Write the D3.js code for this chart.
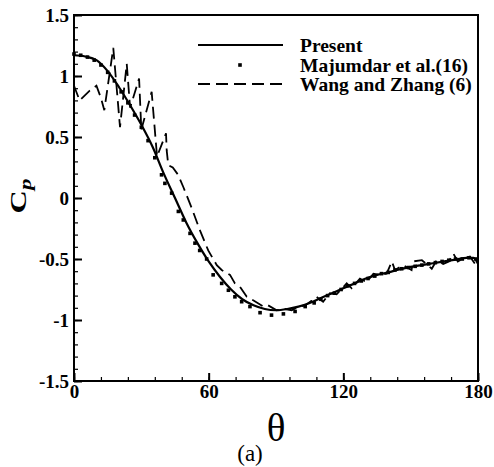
<!DOCTYPE html>
<html>
<head>
<meta charset="utf-8">
<script src="https://cdn.jsdelivr.net/npm/d3@7"></script>
<style>
  body { margin: 0; background: #fff; }
  text { font-family: "Liberation Serif", "Times New Roman", serif; }
</style>
</head>
<body>
<div id="vis"></div>
<script>
// Present (solid line)
const PRESENT_THETA = [0, 5, 10, 15, 20, 25, 30, 35, 40, 45, 50, 55, 60, 65, 70, 75, 80, 85, 90,
  95, 100, 105, 110, 115, 120, 125, 130, 135, 140, 145, 150, 155, 160, 165, 170, 175, 178, 180];
const PRESENT_CP = [1.17, 1.16, 1.13, 1.04, 0.91, 0.76, 0.60, 0.42, 0.20, 0.0, -0.20, -0.37, -0.52, -0.645, -0.75, -0.83, -0.88, -0.91, -0.92,
  -0.91, -0.89, -0.86, -0.82, -0.78, -0.74, -0.70, -0.66, -0.63, -0.61, -0.585, -0.565, -0.55, -0.535, -0.52, -0.505, -0.49, -0.49, -0.54];

// Majumdar et al. (square symbols)
const MAJ_THETA = [0, 3, 6, 9, 12, 15, 18, 21, 24, 27, 30, 33, 36, 39, 40.5, 43.5, 46.5, 48.7, 51.7, 53.9, 56, 59.1, 62,
  65.8, 68.8, 71.7, 74.7, 78.4, 82.9, 88, 93.3, 98.5, 103, 107, 110, 113, 116, 119, 122, 125, 128, 131, 134, 137,
  140, 143, 146, 149, 152, 155, 158, 161, 164, 167, 170, 173, 176, 179];
const MAJ_CP = [1.18, 1.17, 1.155, 1.13, 1.09, 1.03, 0.96, 0.87, 0.78, 0.68, 0.58, 0.47, 0.33, 0.19, 0.12, 0.04, -0.11, -0.18, -0.29, -0.37, -0.43, -0.50, -0.63,
  -0.70, -0.756, -0.81, -0.85, -0.89, -0.94, -0.96, -0.95, -0.93, -0.89, -0.86, -0.83, -0.80, -0.78, -0.75, -0.72, -0.70, -0.68, -0.66, -0.64, -0.62,
  -0.61, -0.59, -0.58, -0.57, -0.56, -0.55, -0.54, -0.53, -0.52, -0.51, -0.50, -0.50, -0.49, -0.50];

// Wang and Zhang (dashed line)
const WANG_THETA = [0, 2.5, 7, 10, 12, 13.5, 17.5, 20.5, 23.5, 25, 29, 30, 34.6, 37, 41, 41.3, 42, 44, 46.4, 48.7, 52.4, 56, 59.8,
  63.6, 65.8, 69.5, 71.7, 74, 77, 80, 84.4, 86.5, 90.3, 94, 97, 100, 103, 106, 108, 111, 114, 117, 119, 121.5, 123.7,
  127.4, 130.4, 133.4, 136, 139.3, 141.6, 143, 146.7, 150.4, 151, 155, 157, 159.4, 161.6, 164.5, 167, 169, 171, 173.5, 176.4, 178.7];
const WANG_CP = [0.92, 0.80, 0.88, 0.92, 0.82, 0.72, 1.23, 0.58, 1.10, 0.74, 0.98, 0.56, 0.87, 0.34, 0.53, 0.39, 0.27, 0.25, 0.19, 0.09, -0.08, -0.26, -0.43,
  -0.55, -0.59, -0.63, -0.70, -0.73, -0.81, -0.84, -0.89, -0.88, -0.92, -0.91, -0.92, -0.89, -0.88, -0.84, -0.81, -0.85, -0.78, -0.79, -0.75, -0.70, -0.74,
  -0.66, -0.69, -0.62, -0.63, -0.62, -0.52, -0.59, -0.55, -0.59, -0.52, -0.51, -0.54, -0.58, -0.51, -0.54, -0.52, -0.455, -0.52, -0.495, -0.48, -0.54];

const X_TICKS = [0, 60, 120, 180];
const Y_TICKS = [-1.5, -1, -0.5, 0, 0.5, 1, 1.5];
const LEGEND_LABELS = ["Present", "Majumdar et al.(16)", "Wang and Zhang (6)"];

const FRAME_WIDTH = 494;
const FRAME_HEIGHT = 467;
const MARGINS = {left: 74, right: 16, top: 15, bottom: 86};
const VIS_WIDTH = FRAME_WIDTH - MARGINS.left - MARGINS.right;
const VIS_HEIGHT = FRAME_HEIGHT - MARGINS.top - MARGINS.bottom;

const FRAME = d3.select("#vis")
                .append("svg")
                  .attr("width", FRAME_WIDTH)
                  .attr("height", FRAME_HEIGHT);

const X_SCALE = d3.scaleLinear().domain([0, 180]).range([0, VIS_WIDTH]);
const Y_SCALE = d3.scaleLinear().domain([-1.5, 1.5]).range([VIS_HEIGHT, 0]);

const PLOT = FRAME.append("g")
                  .attr("transform", "translate(" + MARGINS.left + "," + MARGINS.top + ")");

// minor ticks first (inside)
PLOT.append("g")
    .attr("transform", "translate(0," + VIS_HEIGHT + ")")
    .call(d3.axisBottom(X_SCALE).tickValues(d3.range(0, 181, 12)).tickSize(-4).tickFormat(""))
    .call(g => g.select(".domain").remove())
    .selectAll("line").attr("stroke-width", 1.2);
PLOT.append("g")
    .call(d3.axisLeft(Y_SCALE).tickValues(d3.range(-15, 16, 1).map(v => v / 10)).tickSize(-4).tickFormat(""))
    .call(g => g.select(".domain").remove())
    .selectAll("line").attr("stroke-width", 1.2);

// major ticks + labels
const X_AXIS = PLOT.append("g")
    .attr("transform", "translate(0," + VIS_HEIGHT + ")")
    .call(d3.axisBottom(X_SCALE).tickValues(X_TICKS).tickSize(-8).tickPadding(4).tickFormat(d3.format("d")));
const Y_AXIS = PLOT.append("g")
    .call(d3.axisLeft(Y_SCALE).tickValues(Y_TICKS).tickSize(-8).tickPadding(5).tickFormat(d => String(d)));

[X_AXIS, Y_AXIS].forEach(a => {
  a.select(".domain").remove();
  a.selectAll("line").attr("stroke-width", 2);
  a.selectAll("text")
     .attr("font-weight", "bold")
     .attr("font-size", "19px")
     .attr("fill", "#000");
});

// frame
PLOT.append("rect")
    .attr("x", 0).attr("y", 0)
    .attr("width", VIS_WIDTH).attr("height", VIS_HEIGHT)
    .attr("fill", "none").attr("stroke", "#000").attr("stroke-width", 2);

const LINE = d3.line()
               .x((d) => X_SCALE(d[0]))
               .y((d) => Y_SCALE(d[1]));

// Wang and Zhang
PLOT.append("path")
    .datum(d3.zip(WANG_THETA, WANG_CP))
    .attr("d", LINE)
    .attr("fill", "none").attr("stroke", "#000")
    .attr("stroke-width", 1.8).attr("stroke-dasharray", "12,6");

// Present
PLOT.append("path")
    .datum(d3.zip(PRESENT_THETA, PRESENT_CP))
    .attr("d", LINE.curve(d3.curveMonotoneX))
    .attr("fill", "none").attr("stroke", "#000").attr("stroke-width", 2.2);

// Majumdar squares
const SQ = 3.6;
PLOT.selectAll(".pt")
    .data(d3.zip(MAJ_THETA, MAJ_CP))
    .enter()
    .append("rect")
      .attr("x", (d) => X_SCALE(d[0]) - SQ / 2)
      .attr("y", (d) => Y_SCALE(d[1]) - SQ / 2)
      .attr("width", SQ).attr("height", SQ)
      .attr("fill", "#000");

// legend
const LEG = FRAME.append("g");
const LEG_Y = [45, 65, 84];
LEG.append("line")
   .attr("x1", 198).attr("x2", 283).attr("y1", LEG_Y[0]).attr("y2", LEG_Y[0])
   .attr("stroke", "#000").attr("stroke-width", 2.2);
LEG.append("rect")
   .attr("x", 240 - SQ / 2).attr("y", LEG_Y[1] - SQ / 2)
   .attr("width", SQ).attr("height", SQ).attr("fill", "#000");
LEG.append("line")
   .attr("x1", 198).attr("x2", 283).attr("y1", LEG_Y[2]).attr("y2", LEG_Y[2])
   .attr("stroke", "#000").attr("stroke-width", 1.8).attr("stroke-dasharray", "12,6");
LEG.selectAll(".lt")
   .data(LEGEND_LABELS)
   .enter()
   .append("text")
     .attr("x", 300)
     .attr("y", (d, i) => LEG_Y[i] + 6.5)
     .attr("font-weight", "bold")
     .attr("font-size", "19.5px")
     .text((d) => d);

// axis titles
const CP_LABEL = FRAME.append("text")
     .attr("transform", "translate(26,196) rotate(-90) scale(1.35,1)")
     .attr("text-anchor", "middle")
     .attr("font-weight", "bold")
     .attr("font-size", "24px");
CP_LABEL.append("tspan").text("C");
CP_LABEL.append("tspan").attr("font-size", "17px").attr("font-style", "italic").attr("dy", 5).text("p");

FRAME.append("text")
     .attr("x", 276).attr("y", 441)
     .attr("text-anchor", "middle")
     .attr("font-size", "39px")
     .text("θ");

FRAME.append("text")
     .attr("x", 250).attr("y", 461)
     .attr("text-anchor", "middle")
     .attr("font-size", "23px")
     .text("(a)");
</script>
</body>
</html>
